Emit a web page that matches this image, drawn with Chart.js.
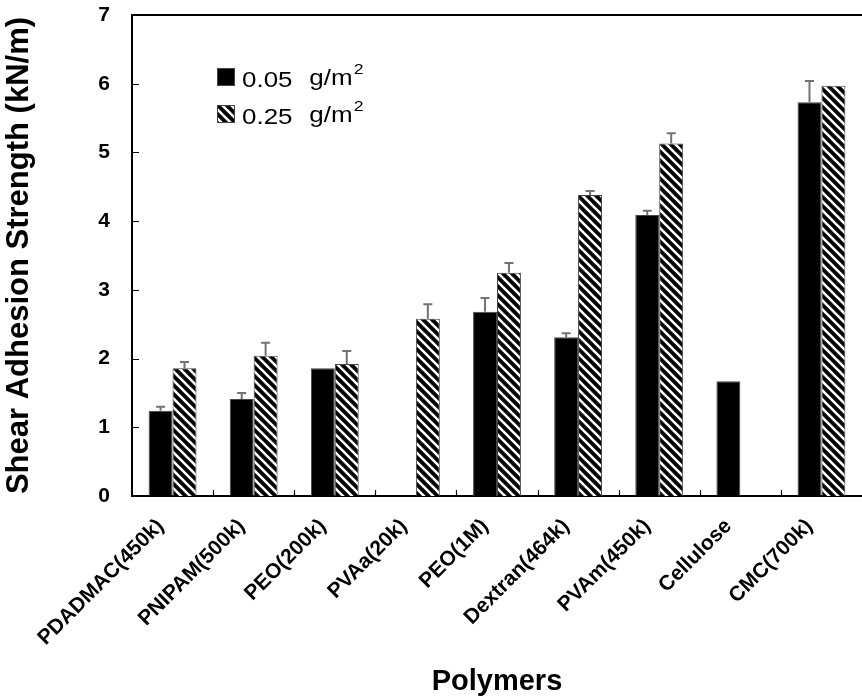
<!DOCTYPE html>
<html>
<head>
<meta charset="utf-8">
<script src="https://cdn.jsdelivr.net/npm/chart.js@4"></script>
<style>
  html, body { margin: 0; padding: 0; background: #fff; overflow: hidden; }
</style>
</head>
<body>
<canvas id="chart" width="862" height="697"></canvas>
<script>
// --- data ---
const polymers = ['PDADMAC(450k)', 'PNIPAM(500k)', 'PEO(200k)', 'PVAa(20k)', 'PEO(1M)',
                  'Dextran(464k)', 'PVAm(450k)', 'Cellulose', 'CMC(700k)'];
const low = [1.24, 1.41, 1.86, null, 2.68, 2.31, 4.09, 1.67, 5.73];      // 0.05 g/m2
const high = [1.86, 2.04, 1.92, 2.58, 3.25, 4.38, 5.13, null, 5.97];     // 0.25 g/m2
const lowErr = [0.06, 0.09, 0, 0, 0.20, 0.06, 0.06, 0, 0.31];
const highErr = [0.09, 0.19, 0.19, 0.21, 0.14, 0.06, 0.15, 0, 0];
const seriesNames = ['0.05', '0.25'];
const yTicks = [0, 1, 2, 3, 4, 5, 6, 7];

const FONT = "'Liberation Sans', Arial, sans-serif";

// diagonal hatch pattern (stripes running top-left to bottom-right)
function makeHatch() {
    const p = document.createElement('canvas');
    p.width = 9; p.height = 9;
    const c = p.getContext('2d');
    c.fillStyle = '#000';
    c.fillRect(0, 0, 9, 9);
    c.strokeStyle = '#fff';
    c.lineWidth = 2.6;
    for (let k = -1; k <= 1; k++) {
        c.beginPath();
        c.moveTo(-2, -2 + k * 9);
        c.lineTo(11, 11 + k * 9);
        c.stroke();
    }
    return c.createPattern(p, 'repeat');
}
const hatch = makeHatch();

// error bars, inward ticks, top frame, legend
const decorations = {
    id: 'decorations',
    afterDatasetsDraw(chart) {
        const ctx = chart.ctx;
        const y = chart.scales.y;
        const errs = [lowErr, highErr];
        ctx.save();
        ctx.strokeStyle = '#727272';
        ctx.lineWidth = 2;
        chart.data.datasets.forEach((ds, di) => {
            const meta = chart.getDatasetMeta(di);
            meta.data.forEach((bar, i) => {
                const v = ds.data[i];
                const e = errs[di][i];
                if (v == null || !e) return;
                const top = y.getPixelForValue(v + e);
                ctx.beginPath();
                ctx.moveTo(bar.x, bar.y);
                ctx.lineTo(bar.x, top);
                ctx.moveTo(bar.x - 4.5, top);
                ctx.lineTo(bar.x + 4.5, top);
                ctx.stroke();
            });
        });
        ctx.restore();
    },
    afterDraw(chart) {
        const ctx = chart.ctx;
        const a = chart.chartArea;
        const x = chart.scales.x;
        const y = chart.scales.y;
        ctx.save();
        ctx.strokeStyle = '#000';
        ctx.lineWidth = 2;
        // top frame
        ctx.beginPath();
        ctx.moveTo(a.left - 1, a.top);
        ctx.lineTo(a.right, a.top);
        ctx.stroke();
        // inward ticks
        ctx.lineWidth = 1.2;
        ctx.beginPath();
        y.ticks.forEach(t => {
            const py = Math.round(y.getPixelForValue(t.value)) + 0.5;
            ctx.moveTo(a.left, py);
            ctx.lineTo(a.left + 7, py);
        });
        for (let i = 1; i < polymers.length; i++) {
            const px = Math.round((x.getPixelForValue(i - 1) + x.getPixelForValue(i)) / 2) + 0.5;
            ctx.moveTo(px, a.bottom);
            ctx.lineTo(px, a.bottom - 6);
        }
        ctx.stroke();
        // legend (text is a little wider than tall in the figure)
        chart.data.datasets.forEach((ds, di) => {
            const lx = a.left + 85;
            const ly = a.top + 53 + di * 37;
            ctx.fillStyle = ds.backgroundColor;
            ctx.fillRect(lx, ly, 18, 18);
            ctx.strokeStyle = '#444';
            ctx.lineWidth = 1;
            ctx.strokeRect(lx + 0.5, ly + 0.5, 17, 17);
            ctx.fillStyle = '#000';
            ctx.textBaseline = 'alphabetic';
            ctx.save();
            ctx.translate(lx + 25, 0);
            ctx.scale(1.18, 1);
            ctx.font = '22px ' + FONT;
            ctx.fillText(seriesNames[di], 0, ly + 19);
            ctx.fillText('g/m', 57, ly + 17);
            const w = ctx.measureText('g/m').width;
            ctx.font = '15px ' + FONT;
            ctx.fillText('2', 58 + w, ly + 6);
            ctx.restore();
        });
        ctx.restore();
    }
};

new Chart(document.getElementById('chart'), {
    type: 'bar',
    data: {
        labels: polymers,
        datasets: [
            { label: '0.05 g/m2', data: low, backgroundColor: '#000', borderColor: '#444', borderWidth: 1 },
            { label: '0.25 g/m2', data: high, backgroundColor: hatch, borderColor: '#444', borderWidth: 1 }
        ]
    },
    options: {
        responsive: false,
        animation: false,
        categoryPercentage: 0.59,
        barPercentage: 1,
        layout: { padding: { top: 15, left: 0, right: 0, bottom: 0 } },
        plugins: {
            legend: { display: false },
            tooltip: { enabled: false }
        },
        scales: {
            x: {
                grid: { display: false, drawTicks: false },
                border: { display: true, color: '#000', width: 2 },
                ticks: {
                    color: '#000',
                    font: { family: FONT, size: 21, weight: 'bold' },
                    minRotation: 45,
                    maxRotation: 45,
                    padding: 18,
                    labelOffset: -12
                },
                title: {
                    display: true,
                    text: 'Polymers',
                    color: '#000',
                    font: { family: FONT, size: 29, weight: 'bold' },
                    padding: { top: 0, bottom: -2 }
                },
                afterFit(s) {
                    s.height = 201;
                    s.paddingLeft = 0;
                    s.paddingRight = 0;
                }
            },
            y: {
                min: 0,
                max: 7,
                grid: { display: false, drawTicks: false },
                border: { display: true, color: '#000', width: 2 },
                afterBuildTicks(s) { s.ticks = yTicks.map(v => ({ value: v })); },
                ticks: {
                    color: '#000',
                    font: { family: FONT, size: 21, weight: 'bold' },
                    padding: 22
                },
                title: {
                    display: true,
                    text: 'Shear Adhesion Strength (kN/m)',
                    color: '#000',
                    font: { family: FONT, size: 31, weight: 'bold' },
                    padding: { top: 1, bottom: 0 }
                },
                afterFit(s) {
                    s.width = 132;
                    s.paddingTop = 0;
                    s.paddingBottom = 0;
                }
            }
        }
    },
    plugins: [decorations]
});
</script>
</body>
</html>
